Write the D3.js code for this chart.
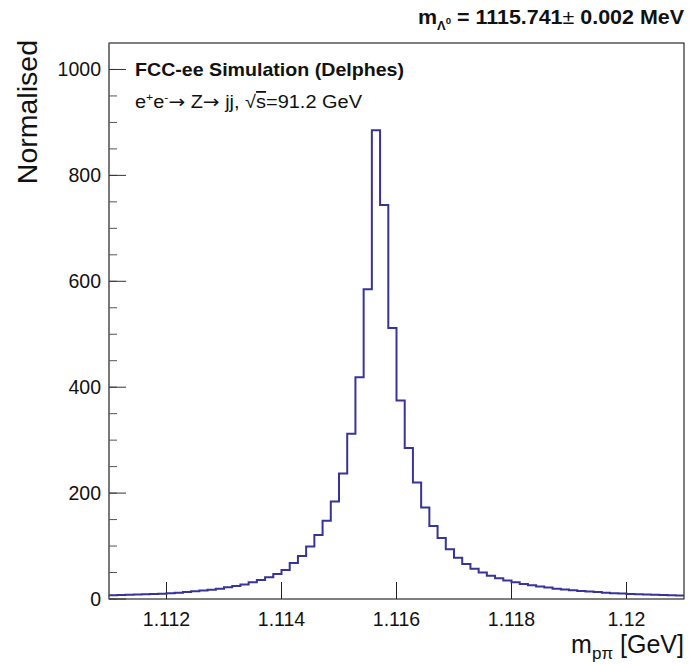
<!DOCTYPE html>
<html>
<head>
<meta charset="utf-8">
<script src="https://cdn.jsdelivr.net/npm/d3@7"></script>
<style>
  body { margin: 0; background: #fff; }
  svg { font-family: "Liberation Sans", Arial, sans-serif; }
</style>
</head>
<body>
<svg id="chart" width="689" height="664"></svg>
<script>
// histogram: 70 bins between 1.111 and 1.121 GeV
var xMin = 1.111, xMax = 1.121, nBins = 70;
var counts = [
  7, 7.5, 8, 8.5, 9, 9.5, 10, 11, 12, 13,
  14.5, 16, 17.5, 19.5, 22, 24.5, 27.5, 31.5, 36, 41,
  47, 55, 68, 81, 99, 121, 148, 184, 237, 312,
  419, 585, 885, 744, 512, 375, 285, 220, 173, 138,
  115, 94, 78, 66, 57, 50, 44, 39, 35, 31.5,
  28.5, 26, 23.5, 21.5, 19.5, 18, 16.5, 15, 14, 13,
  12, 11, 10.3, 9.6, 9, 8.4, 7.9, 7.4, 7, 6.6
];
var xTicks = [1.112, 1.114, 1.116, 1.118, 1.12];
var yTicks = [0, 200, 400, 600, 800, 1000];
var yMinorTicks = d3.range(0, 1050, 50);

(function(){
var svg = d3.select("#chart");
var padL = 109, padR = 684, padT = 43, padB = 599;

var x = d3.scaleLinear().domain([xMin, xMax]).range([padL, padR]);
var y = d3.scaleLinear().domain([0, 1050]).range([padB, padT]);

var binW = (xMax - xMin) / nBins;
// step points: each bin gives its left edge, last point closes at right edge
var pts = counts.map(function(c, i){ return [xMin + i * binW, c]; });
pts.push([xMax, counts[counts.length - 1]]);

// frame
svg.append("rect")
  .attr("x", padL).attr("y", padT)
  .attr("width", padR - padL).attr("height", padB - padT)
  .attr("fill", "none").attr("stroke", "#000").attr("stroke-width", 1);

// y axis ticks (inside)
svg.append("line").attr("x1", padL).attr("x2", padL).attr("y1", padT).attr("y2", padB)
  .attr("stroke", "#777").attr("stroke-width", 1.5);
svg.selectAll(".ymin").data(yMinorTicks).enter().append("line")
  .attr("x1", padL).attr("x2", padL + 8)
  .attr("y1", function(d){ return y(d); }).attr("y2", function(d){ return y(d); })
  .attr("stroke", "#555").attr("stroke-width", 1);
svg.selectAll(".ymaj").data(yTicks).enter().append("line")
  .attr("x1", padL).attr("x2", padL + 17)
  .attr("y1", function(d){ return y(d); }).attr("y2", function(d){ return y(d); })
  .attr("stroke", "#333").attr("stroke-width", 1);
svg.selectAll(".ylab").data(yTicks).enter().append("text")
  .attr("x", padL - 8).attr("y", function(d){ return y(d) + 7; })
  .attr("text-anchor", "end").attr("font-size", 19.5).attr("fill", "#111")
  .text(function(d){ return d; });

// x axis ticks (up from bottom)
svg.selectAll(".xmaj").data(xTicks).enter().append("line")
  .attr("x1", function(d){ return x(d); }).attr("x2", function(d){ return x(d); })
  .attr("y1", padB).attr("y2", padB - 17)
  .attr("stroke", "#222").attr("stroke-width", 1);
svg.selectAll(".xlab").data(xTicks).enter().append("text")
  .attr("x", function(d){ return x(d); }).attr("y", padB + 27)
  .attr("text-anchor", "middle").attr("font-size", 19.5).attr("fill", "#111")
  .text(function(d){ return +d.toFixed(3); });

// histogram
var line = d3.line()
  .x(function(d){ return x(d[0]); })
  .y(function(d){ return y(d[1]); })
  .curve(d3.curveStepAfter);
svg.append("path").datum(pts)
  .attr("d", line)
  .attr("fill", "none").attr("stroke", "#36349a").attr("stroke-width", 2);

// axis titles
svg.append("text")
  .attr("transform", "translate(37,40) rotate(-90)")
  .attr("text-anchor", "end").attr("font-size", 28.5).attr("fill", "#111")
  .text("Normalised");

var xt = svg.append("text")
  .attr("x", padR).attr("y", 653)
  .attr("text-anchor", "end").attr("font-size", 25).attr("fill", "#111");
xt.append("tspan").text("m");
xt.append("tspan").attr("font-size", 17).attr("dy", 6).text("pπ");
xt.append("tspan").attr("dy", -6).text(" [GeV]");

// labels in the pad
svg.append("text").attr("x", 135).attr("y", 76)
  .attr("font-size", 19).attr("font-weight", "bold").attr("fill", "#111")
  .attr("textLength", 269).attr("lengthAdjust", "spacingAndGlyphs")
  .text("FCC-ee Simulation (Delphes)");

var proc = svg.append("text").attr("x", 135).attr("y", 108)
  .attr("font-size", 18).attr("fill", "#111")
  .attr("textLength", 227).attr("lengthAdjust", "spacingAndGlyphs");
proc.append("tspan").text("e");
proc.append("tspan").attr("font-size", 11).attr("dy", -7).text("+");
proc.append("tspan").attr("dy", 7).text("e");
proc.append("tspan").attr("font-size", 11).attr("dy", -7).text("-");
proc.append("tspan").attr("dy", 7).attr("font-family", "DejaVu Sans").text("→");
proc.append("tspan").text(" Z");
proc.append("tspan").attr("font-family", "DejaVu Sans").text("→");
proc.append("tspan").text(" jj, ");
proc.append("tspan").text("√");
proc.append("tspan").attr("text-decoration", "overline").text("s");
proc.append("tspan").text("=91.2 GeV");

// mass title
var tt = svg.append("text").attr("x", padR).attr("y", 24)
  .attr("text-anchor", "end").attr("font-size", 20).attr("font-weight", "bold").attr("fill", "#111")
  .attr("textLength", 266).attr("lengthAdjust", "spacingAndGlyphs");
tt.append("tspan").text("m");
tt.append("tspan").attr("font-size", 12).attr("dy", 6).text("Λ");
tt.append("tspan").attr("font-size", 9).attr("dy", -6).text("0");
tt.append("tspan").attr("dy", 0).text(" = 1115.741");
tt.append("tspan").attr("font-weight", "normal").text("± ");
tt.append("tspan").text("0.002 MeV");
})();
</script>
</body>
</html>
